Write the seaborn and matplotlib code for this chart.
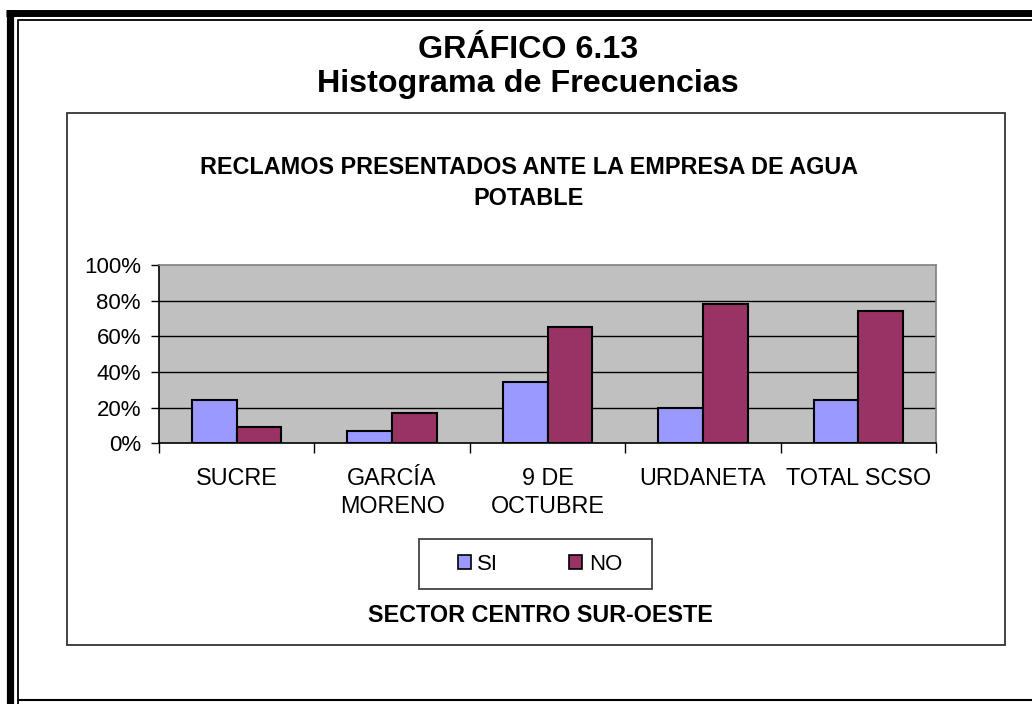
import matplotlib
matplotlib.use("Agg")
import matplotlib.pyplot as plt
from matplotlib.lines import Line2D
from matplotlib.patches import Rectangle, Patch
from matplotlib.ticker import FixedLocator, FuncFormatter
import seaborn as sns
import pandas as pd

categories = ["SUCRE", "GARCÍA\nMORENO", "9 DE\nOCTUBRE", "URDANETA", "TOTAL SCSO"]
si_values = [24.3, 7.1, 34.4, 20.0, 24.3]
no_values = [9.0, 17.2, 65.0, 78.3, 74.3]
series_names = ["SI", "NO"]
y_ticks = [0, 20, 40, 60, 80, 100]

sns.set_theme(style="white")
plt.rcParams["font.family"] = ["Liberation Sans", "DejaVu Sans"]
plt.rcParams["text.color"] = "black"
plt.rcParams["xtick.color"] = "black"
plt.rcParams["ytick.color"] = "black"
plt.rcParams["axes.labelcolor"] = "black"

df = pd.DataFrame({
    "sector": categories * 2,
    "valor": si_values + no_values,
    "resp": [series_names[0]] * len(categories) + [series_names[1]] * len(categories),
})

W, H = 1032, 704
fig = plt.figure(figsize=(W / 100, H / 100), dpi=100)
fig.patch.set_facecolor("white")

def fx(x):
    return x / W

def fy(y):
    return 1 - y / H

# outer frames
fig.add_artist(Line2D([fx(9.5), fx(9.5)], [fy(10), fy(H + 5)], color="black", lw=5.2,
                      solid_capstyle="butt", transform=fig.transFigure))
fig.add_artist(Line2D([fx(6), fx(W + 5)], [fy(13), fy(13)], color="black", lw=5.0,
                      solid_capstyle="butt", transform=fig.transFigure))
fig.add_artist(Line2D([fx(17.5), fx(17.5), fx(W + 5)], [fy(H + 5), fy(20), fy(20)], color="black", lw=1.3,
                      solid_capstyle="butt", transform=fig.transFigure))
fig.add_artist(Line2D([fx(17.5), fx(W + 5)], [fy(700), fy(700)], color="black", lw=1.5,
                      solid_capstyle="butt", transform=fig.transFigure))

# chart area box
fig.add_artist(Rectangle((fx(67), fy(645)), fx(1005) - fx(67), fy(113) - fy(645),
                         fill=False, edgecolor="#333333", lw=1.3, transform=fig.transFigure))

# titles
fig.text(fx(528), fy(58), "GRÁFICO 6.13", ha="center", va="baseline", fontsize=23.2, fontweight="bold")
fig.text(fx(528), fy(92), "Histograma de Frecuencias", ha="center", va="baseline", fontsize=23.2, fontweight="bold")
fig.text(fx(528.5), fy(173.5), "RECLAMOS PRESENTADOS ANTE LA EMPRESA DE AGUA", ha="center", va="baseline",
         fontsize=16.8, fontweight="bold")
fig.text(fx(528.5), fy(205), "POTABLE", ha="center", va="baseline", fontsize=16.8, fontweight="bold")
fig.text(fx(540), fy(621.5), "SECTOR CENTRO SUR-OESTE", ha="center", va="baseline", fontsize=16.8, fontweight="bold")

ax = fig.add_axes([fx(159), fy(443.3), fx(936) - fx(159), fy(265) - fy(443.3)])
ax.set_facecolor("#C0C0C0")

sns.barplot(data=df, x="sector", y="valor", hue="resp", palette=["#9999FF", "#993366"],
            width=0.575, saturation=1, edgecolor="black", linewidth=1.5, legend=False,
            ax=ax, zorder=3, errorbar=None)

ax.set_ylim(0, 100)
ax.set_xlim(-0.5, len(categories) - 0.5)
ax.yaxis.set_major_locator(FixedLocator(y_ticks))
ax.yaxis.set_major_formatter(FuncFormatter(lambda v, p: f"{int(v)}%"))
for t in y_ticks[1:-1]:
    ax.axhline(t, color="black", lw=1.0, zorder=1)

ax.set_xlabel("")
ax.set_ylabel("")
ax.tick_params(axis="y", length=6, width=1, color="black", pad=7, labelsize=16, left=True, direction="out")
ax.tick_params(axis="x", which="major", length=0, pad=17, labelsize=16.8)
ax.set_xticks([i - 0.5 for i in range(len(categories) + 1)], minor=True)
ax.tick_params(axis="x", which="minor", length=7, width=1, color="black", bottom=True, direction="out")
for lab in ax.get_xticklabels():
    lab.set_linespacing(1.3)

for s in ["top", "right"]:
    ax.spines[s].set_color("#808080")
    ax.spines[s].set_linewidth(1.2)
for s in ["left", "bottom"]:
    ax.spines[s].set_color("black")
    ax.spines[s].set_linewidth(1.2)

# legend frame
fig.add_artist(Rectangle((fx(419), fy(589)), fx(652) - fx(419), fy(539) - fy(589),
                         fill=False, edgecolor="#333333", lw=1.2, transform=fig.transFigure))
handles = [Patch(facecolor="#9999FF", edgecolor="black", lw=1.2),
           Patch(facecolor="#993366", edgecolor="black", lw=1.2)]
leg = fig.legend(handles, series_names, loc="center", bbox_to_anchor=(fx(540), fy(564)),
                 ncol=2, frameon=False, fontsize=16,
                 handlelength=0.58, handleheight=0.58, handletextpad=0.3, columnspacing=3.2,
                 borderpad=0, borderaxespad=0)

fig.savefig("out.png", dpi=100, facecolor="white")
